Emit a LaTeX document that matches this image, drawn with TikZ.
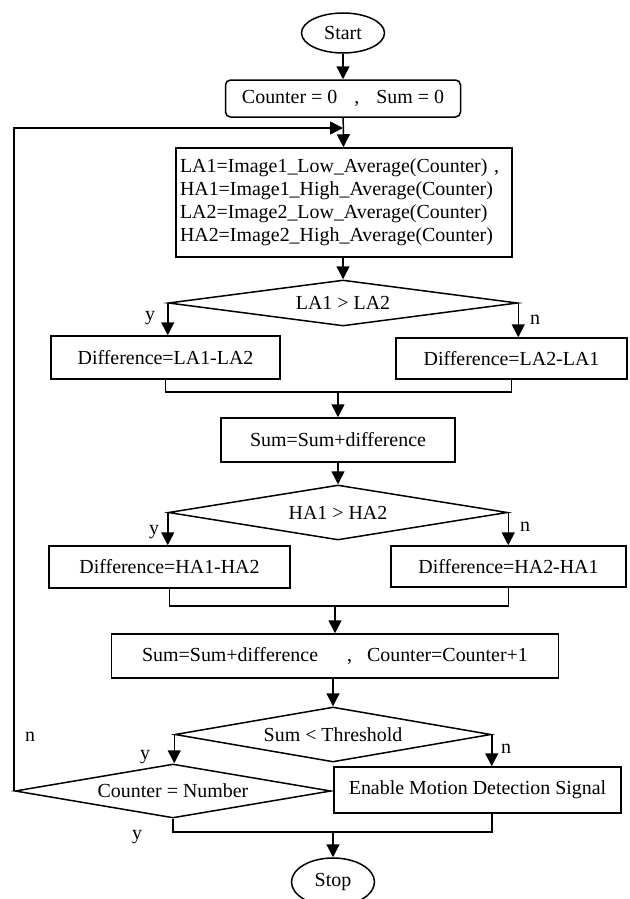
\documentclass[tikz,border=0pt]{standalone}
\usepackage{fontspec}
\setmainfont{Liberation Serif}
\usetikzlibrary{shapes.geometric, arrows.meta}

\begin{document}
\begin{tikzpicture}[x=1bp, y=-1bp, line width=1.5bp,
    every node/.style={font=\fontsize{20}{23}\selectfont},
    box/.style={draw, rectangle, inner sep=0pt},
    cond/.style={draw, diamond, inner sep=0pt, shape aspect=6},
    term/.style={draw, ellipse, inner sep=0pt, minimum width=83bp},
    arr/.style={-{Triangle[length=13bp,width=13bp]}}]
    % 边界
    \useasboundingbox (0,0) rectangle (630,899);
    % 开始与初始化
    \node[term, minimum height=40bp] (start) at (343,33) {Start};
    \node[box, rounded corners=5bp, minimum width=235bp, minimum height=37bp] (init) at (343,98.5)
        {Counter = 0\hspace{12bp} ,\hspace{12bp} Sum = 0};
    \node[box, minimum width=336bp, minimum height=109bp, text width=328bp, inner sep=4bp, align=left] (avg) at (344,202.5)
        {LA1=Image1\_Low\_Average(Counter) ,\\HA1=Image1\_High\_Average(Counter)\\LA2=Image2\_Low\_Average(Counter)\\HA2=Image2\_High\_Average(Counter)};
    % 第一次比较
    \node[cond, minimum width=349bp, minimum height=46bp] (c1) at (343,303) {LA1 > LA2};
    \node[box, minimum width=229bp, minimum height=43bp] (dl1) at (165.5,357.5) {Difference=LA1-LA2};
    \node[box, minimum width=231bp, minimum height=41bp] (dr1) at (511.5,358.5) {Difference=LA2-LA1};
    \node[box, minimum width=234bp, minimum height=44bp] (sum1) at (338,440) {Sum=Sum+difference};
    % 第二次比较
    \node[cond, minimum width=339bp, minimum height=55bp] (c2) at (338,512.5) {HA1 > HA2};
    \node[box, minimum width=241bp, minimum height=42bp] (dl2) at (169.5,567) {Difference=HA1-HA2};
    \node[box, minimum width=235bp, minimum height=41bp] (dr2) at (508.5,566.5) {Difference=HA2-HA1};
    \node[box, minimum width=447bp, minimum height=44bp] (sum2) at (335,656)
        {Sum=Sum+difference\hspace{24bp} ,\hspace{10bp} Counter=Counter+1};
    % 判断阈值
    \node[cond, minimum width=316bp, minimum height=55bp] (c3) at (333,734.5) {Sum < Threshold};
    \node[cond, minimum width=316bp, minimum height=54bp] (c4) at (173,791) {Counter = Number};
    \node[box, minimum width=287bp, minimum height=46bp] (signal) at (477.5,790) {Enable Motion Detection Signal};
    \node[term, minimum height=48bp] (stop) at (333,882) {Stop};
    % 汇合点
    \coordinate (m0) at (343,128);
    \coordinate (m1) at (338,392);
    \coordinate (m2) at (335,606);
    \coordinate (m3) at (333,832);
    % 连线
    \draw[arr] (start) -- (init);
    \draw[arr] (init) -- (avg);
    \draw[arr] (c4.west) |- (m0);
    \draw[arr] (avg.south -| c1.north) -- (c1.north);
    \draw[arr] (c1.west) -- (c1.west |- dl1.north);
    \draw[arr] (c1.east) -- (c1.east |- dr1.north);
    \draw (dl1.south) |- (m1) -| (dr1.south);
    \draw[arr] (m1) -- (sum1.north);
    \draw[arr] (sum1) -- (c2);
    \draw[arr] (c2.west) -- (c2.west |- dl2.north);
    \draw[arr] (c2.east) -- (c2.east |- dr2.north);
    \draw (dl2.south) |- (m2) -| (dr2.south);
    \draw[arr] (m2) -- (sum2.north);
    \draw[arr] (sum2.south -| c3.north) -- (c3.north);
    \draw[arr] (c3.west) -- (c3.west |- c4.north);
    \draw[arr] (c3.east) -- (c3.east |- signal.north);
    \draw (c4.south) |- (m3) -| (c3.east |- signal.south);
    \draw[arr] (m3) -- (stop.north);
    % 分支标注
    \node (ly1) at (150,318) {y};
    \node (ln1) at (535,320) {n};
    \node (ly2) at (154,532) {y};
    \node (ln2) at (525,527) {n};
    \node (ln3) at (30,737) {n};
    \node (ly3) at (145,757) {y};
    \node (ln4) at (506,749) {n};
    \node (ly4) at (137,837) {y};
\end{tikzpicture}
\end{document}
